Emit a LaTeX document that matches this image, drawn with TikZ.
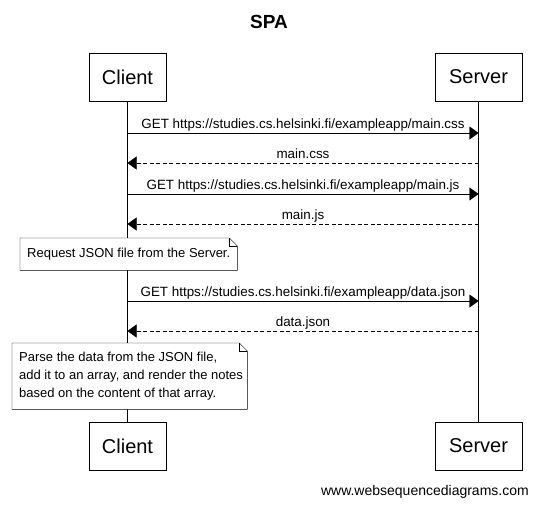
\documentclass[tikz,border=0pt]{standalone}
\usepackage{fontspec}
\setmainfont{Liberation Sans}
\usetikzlibrary{arrows.meta}
\begin{document}
\begin{tikzpicture}[x=1pt,y=-1pt,
  actor/.style={draw,minimum height=48pt,inner xsep=12pt,font=\fontsize{20}{24}\selectfont},
  msg/.style={-{Triangle[length=9pt,width=13pt]}},
  ret/.style={msg,dash pattern=on 4pt off 2.5pt},
  lbl/.style={font=\fontsize{13.4}{15}\selectfont,inner sep=0pt,anchor=base,yshift=4.5pt},
  notebox/.style={fill=white,align=left,inner xsep=7pt,inner ysep=0pt,anchor=north west,font=\fontsize{13}{18.3}\selectfont},
  fold/.style={draw,fill=white}
]
\useasboundingbox (0,0) rectangle (538,506);
\node[font=\bfseries\fontsize{19}{22}\selectfont] (title) at (269,22) {SPA};
\node[actor,minimum width=77pt] (ctop) at (127.5,77) {Client};
\node[actor,minimum width=87pt] (stop) at (478.5,77) {Server};
\node[actor,minimum width=77pt] (cbot) at (127.5,446) {Client};
\node[actor,minimum width=87pt] (sbot) at (478.5,446) {Server};
\draw (ctop.south) -- (cbot.north);
\draw (stop.south) -- (sbot.north);
% message endpoints on lifelines
\foreach \n/\y in {1/133,2/163,3/194,4/224,5/301,6/331}{
  \coordinate (c\n) at (127.5,\y);
  \coordinate (s\n) at (478.5,\y);
}
\draw[msg] (c1) -- node[lbl]{GET https://studies.cs.helsinki.fi/exampleapp/main.css} (s1);
\draw[ret] (s2) -- node[lbl]{main.css} (c2);
\draw[msg] (c3) -- node[lbl]{GET https://studies.cs.helsinki.fi/exampleapp/main.js} (s3);
\draw[ret] (s4) -- node[lbl]{main.js} (c4);
\draw[msg] (c5) -- node[lbl]{GET https://studies.cs.helsinki.fi/exampleapp/data.json} (s5);
\draw[ret] (s6) -- node[lbl]{data.json} (c6);
% note frames
\node[notebox,text width=203pt,minimum height=32pt] (n1) at (20,238) {\phantom{R}};
\draw[fold] (n1.north west) -- ([xshift=-8pt]n1.north east) -- ([yshift=-8pt]n1.north east) -- (n1.south east) -- (n1.south west) -- cycle;
\draw ([xshift=-8pt]n1.north east) -- ([xshift=-8pt,yshift=-8pt]n1.north east) -- ([yshift=-8pt]n1.north east);
\node[notebox,text width=221pt,minimum height=66pt] (n2) at (12,343) {\phantom{R}};
\draw[fold] (n2.north west) -- ([xshift=-8pt]n2.north east) -- ([yshift=-8pt]n2.north east) -- (n2.south east) -- (n2.south west) -- cycle;
\draw ([xshift=-8pt]n2.north east) -- ([xshift=-8pt,yshift=-8pt]n2.north east) -- ([yshift=-8pt]n2.north east);
% note texts
\node[notebox,fill=none,anchor=west,inner xsep=0pt] (t1) at ([xshift=7pt]n1.west) {Request JSON file from the Server.};
\node[notebox,fill=none,anchor=west,inner xsep=0pt] (t2) at ([xshift=7pt]n2.west) {Parse the data from the JSON file,\\add it to an array, and render the notes\\based on the content of that array.};
\node[font=\fontsize{14}{16}\selectfont,anchor=base east,inner sep=0pt] (footer) at (529,495) {www.websequencediagrams.com};
\end{tikzpicture}
\end{document}
